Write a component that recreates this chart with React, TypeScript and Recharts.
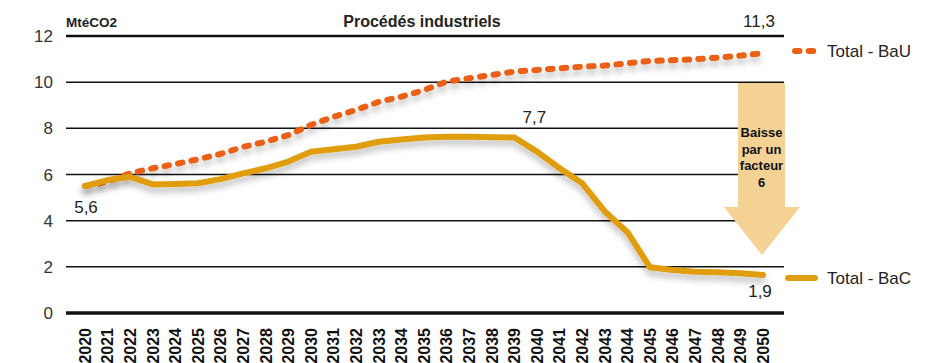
import { LineChart, Line, XAxis, YAxis, CartesianGrid, LabelList, ReferenceLine } from 'recharts';

document.body.style.margin = '0';

const years = [
  '2020', '2021', '2022', '2023', '2024', '2025', '2026', '2027', '2028', '2029', '2030',
  '2031', '2032', '2033', '2034', '2035', '2036', '2037', '2038', '2039', '2040',
  '2041', '2042', '2043', '2044', '2045', '2046', '2047', '2048', '2049', '2050',
];

// Total - BaU (MtéCO2)
const bauValues = [
  5.5, 5.69, 6.05, 6.27, 6.45, 6.66, 6.89, 7.2, 7.42, 7.71, 8.15,
  8.5, 8.8, 9.15, 9.37, 9.66, 10.02, 10.17, 10.31, 10.46, 10.53,
  10.6, 10.67, 10.72, 10.82, 10.92, 10.95, 10.99, 11.06, 11.15, 11.25,
];

// Total - BaC (MtéCO2)
const bacValues = [
  5.5, 5.76, 5.9, 5.57, 5.59, 5.62, 5.8, 6.05, 6.27, 6.56, 6.99,
  7.09, 7.2, 7.42, 7.52, 7.6, 7.64, 7.64, 7.61, 7.6, 6.99,
  6.27, 5.62, 4.4, 3.5, 1.98, 1.86, 1.79, 1.76, 1.72, 1.65,
];

const yTicks = [0, 2, 4, 6, 8, 10, 12];
const seriesNames = ['Total - BaU', 'Total - BaC'];
const bauLabels: Record<number, string> = { 30: '11,3' };
const bacLabels: Record<number, string> = { 0: '5,6', 19: '7,7', 30: '1,9' };

const data = years.map((year, i) => ({ year, bau: bauValues[i], bac: bacValues[i] }));

const BAU = '#ea6016';
const BAC = '#e09d0f';
const ARROW = '#f4d294';
const FONT = '"Liberation Sans", Arial, sans-serif';
const BAU_DASH = '4.5 9.2';

// where each value label sits relative to its point
const labelShift: Record<string, [number, number]> = {
  '5,6': [1, 27],
  '7,7': [20, -15],
  '11,3': [-4, -26],
  '1,9': [-3, 22],
};

const valueLabel = (texts: Record<number, string>) => (props: any) => {
  const t = texts[props.index];
  if (!t) return null;
  const [dx, dy] = labelShift[t];
  return (
    <text x={props.x + dx} y={props.y + dy} textAnchor="middle" fontSize={17} fill="#222" fontFamily={FONT}>
      {t}
    </text>
  );
};

const YearTick = ({ x, y, payload }: any) => (
  <text
    x={x}
    y={y}
    transform={`rotate(-90 ${x} ${y})`}
    textAnchor="end"
    dy="0.36em"
    fontSize={16}
    fontWeight="bold"
    fill="#111"
    fontFamily={FONT}
  >
    {payload.value}
  </text>
);

export default function App() {
  return (
    <div style={{ position: 'relative', width: 935, height: 363, background: '#fff', fontFamily: FONT }}>
      <LineChart width={935} height={363} data={data} margin={{ top: 36, right: 151, bottom: 0, left: 0 }}>
        <defs>
          <filter id="sh" x="-5%" y="-20%" width="110%" height="160%">
            <feDropShadow dx="0" dy="5" stdDeviation="3" floodColor="#000" floodOpacity="0.25" />
          </filter>
        </defs>
        <CartesianGrid vertical={false} stroke="#111" strokeWidth={1.5} />
        <ReferenceLine y={12} stroke="#111" strokeWidth={2.5} />
        <XAxis
          dataKey="year"
          scale="point"
          padding={{ left: 19, right: 21 }}
          interval={0}
          height={50}
          tickLine={false}
          tickSize={0}
          tickMargin={15}
          axisLine={{ stroke: '#111', strokeWidth: 3.3 }}
          tick={<YearTick />}
        />
        <YAxis
          domain={[0, 12]}
          ticks={yTicks}
          width={66}
          axisLine={false}
          tickLine={false}
          tickSize={0}
          tickMargin={13}
          tick={{ fontSize: 17, fill: '#333', fontFamily: FONT }}
        />
        <Line
          dataKey="bau"
          name={seriesNames[0]}
          stroke={BAU}
          strokeWidth={6}
          strokeDasharray={BAU_DASH}
          strokeLinecap="round"
          strokeLinejoin="round"
          dot={false}
          filter="url(#sh)"
          isAnimationActive={false}
        >
          <LabelList dataKey="bau" content={valueLabel(bauLabels)} />
        </Line>
        <Line
          dataKey="bac"
          name={seriesNames[1]}
          stroke={BAC}
          strokeWidth={6}
          strokeLinecap="round"
          strokeLinejoin="round"
          dot={false}
          filter="url(#sh)"
          isAnimationActive={false}
        >
          <LabelList dataKey="bac" content={valueLabel(bacLabels)} />
        </Line>
      </LineChart>
      <svg width={935} height={363} style={{ position: 'absolute', left: 0, top: 0, pointerEvents: 'none' }}>
        <text x={422} y={27} textAnchor="middle" fontSize={16} fontWeight="bold" fill="#222" fontFamily={FONT}>
          Procédés industriels
        </text>
        <text x={66} y={27} fontSize={13.5} fontWeight="bold" fill="#222" fontFamily={FONT}>
          MtéCO2
        </text>
        {/* arrow annotation */}
        <polygon points="738,83 785,83 785,207 800,207 762,255 724,207 738,207" fill={ARROW} />
        {['Baisse', 'par un', 'facteur', '6'].map((line, i) => (
          <text key={line} x={761.5} y={137 + i * 16.5} textAnchor="middle" fontSize={13} fontWeight="bold" fill="#111" fontFamily={FONT}>
            {line}
          </text>
        ))}
        {/* legend */}
        <line x1={795} y1={51} x2={817} y2={51} stroke={BAU} strokeWidth={6} strokeDasharray={BAU_DASH} strokeLinecap="round" />
        <text x={827} y={57} fontSize={17} fill="#222" fontFamily={FONT}>{seriesNames[0]}</text>
        <line x1={788} y1={278} x2={815} y2={278} stroke={BAC} strokeWidth={6} strokeLinecap="round" />
        <text x={827} y={284} fontSize={17} fill="#222" fontFamily={FONT}>{seriesNames[1]}</text>
      </svg>
    </div>
  );
}
